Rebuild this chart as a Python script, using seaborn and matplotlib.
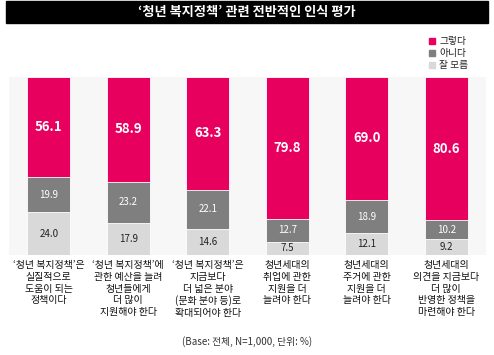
import numpy as np
import pandas as pd
import matplotlib
matplotlib.use("Agg")
import matplotlib.pyplot as plt
import seaborn as sns

# data
categories = [
    "‘청년 복지정책’은\n실질적으로\n도움이 되는\n정책이다",
    "‘청년 복지정책’에\n관한 예산을 늘려\n청년들에게\n더 많이\n지원해야 한다",
    "‘청년 복지정책’은\n지금보다\n더 넓은 분야\n(문화 분야 등)로\n확대되어야 한다",
    "청년세대의\n취업에 관한\n지원을 더\n늘려야 한다",
    "청년세대의\n주거에 관한\n지원을 더\n늘려야 한다",
    "청년세대의\n의견을 지금보다\n더 많이\n반영한 정책을\n마련해야 한다",
]
yes = [56.1, 58.9, 63.3, 79.8, 69.0, 80.6]
no = [19.9, 23.2, 22.1, 12.7, 18.9, 10.2]
dunno = [24.0, 17.9, 14.6, 7.5, 12.1, 9.2]
series_names = ["그렇다", "아니다", "잘 모름"]

c_yes = "#e8005e"
c_no = "#7f7f7f"
c_dunno = "#d9d9d9"

sns.set_theme(style="white")
plt.rcParams["font.family"] = ["Noto Sans CJK KR", "DejaVu Sans"]

df = pd.DataFrame({"cat": list(range(len(categories))), "yes": yes, "no": no, "dunno": dunno})
df["top"] = df["yes"] + df["no"] + df["dunno"]
df["mid"] = df["no"] + df["dunno"]

fig = plt.figure(figsize=(4.94, 3.55), dpi=100)
ax = fig.add_axes([9 / 494, 100 / 355, 477 / 494, 178 / 355])
ax.set_facecolor("#f7f7f7")

# stacked bars drawn back to front
for col, color in [("top", c_yes), ("mid", c_no), ("dunno", c_dunno)]:
    sns.barplot(data=df, x="cat", y=col, color=color, width=0.54, ax=ax,
                edgecolor="white", linewidth=0.6, saturation=1)

ax.set_xlim(-0.5, 5.5)
ax.set_ylim(0, 100)
ax.set_xticks([])
ax.set_yticks([])
ax.set_xlabel("")
ax.set_ylabel("")
for s in ax.spines.values():
    s.set_visible(False)

for i in range(len(categories)):
    d, n, y = dunno[i], no[i], yes[i]
    ax.text(i, d / 2, f"{d:.1f}", ha="center", va="center", fontsize=7, color="#222222")
    ax.text(i, d + n / 2, f"{n:.1f}", ha="center", va="center", fontsize=7, color="white")
    ax.text(i, d + n + y / 2, f"{y:.1f}", ha="center", va="center", fontsize=9.5,
            color="white", fontweight="bold")
    ax.text(i, -3, categories[i], ha="center", va="top", fontsize=7.2,
            color="#111111", linespacing=1.2, fontweight="medium")

# title bar
fig.patches.append(plt.Rectangle((6 / 494, 1 - 23 / 355), 482 / 494, 22 / 355,
                                 transform=fig.transFigure, color="black", zorder=0))
fig.text(247 / 494, 1 - 12 / 355, "‘청년 복지정책’ 관련 전반적인 인식 평가",
         ha="center", va="center", color="white", fontsize=9.5, fontweight="bold")

# legend
for j, (name, color) in enumerate(zip(series_names, [c_yes, c_no, c_dunno])):
    yy = 1 - (41 + 12 * j) / 355
    fig.patches.append(plt.Rectangle((429 / 494, yy - 3 / 355), 6 / 494, 6 / 355,
                                     transform=fig.transFigure, color=color))
    fig.text(439 / 494, yy, name, ha="left", va="center", fontsize=7, color="#222222")

fig.text(247 / 494, 1 - 342 / 355, "(Base: 전체, N=1,000, 단위: %)",
         ha="center", va="center", fontsize=7, color="#333333")

fig.savefig("out.png", dpi=100)
